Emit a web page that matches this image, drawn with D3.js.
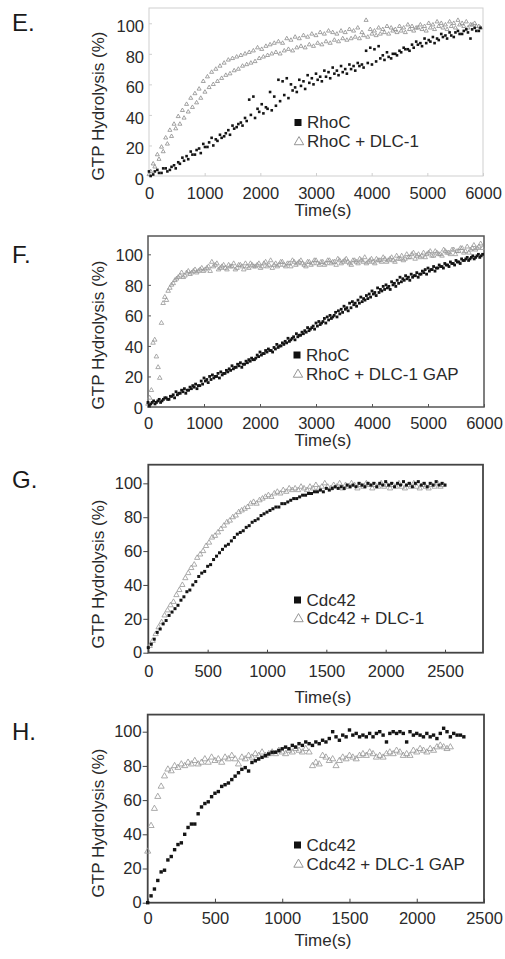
<!DOCTYPE html>
<html>
<head>
<meta charset="utf-8">
<script src="https://cdn.jsdelivr.net/npm/d3@7"></script>
<style>
  body { margin: 0; background: #fff; }
  svg text { font-family: "Liberation Sans", Arial, sans-serif; }
</style>
</head>
<body>
<svg id="fig" width="505" height="959"></svg>
<script>
// ---- data (GTP hydrolysis %) ----
const yTicks = [0, 20, 40, 60, 80, 100]
const xTicksLong = [0, 1000, 2000, 3000, 4000, 5000, 6000]
const xTicksShort = [0, 500, 1000, 1500, 2000, 2500]

// panel E, sampling every 75 s, two runs each
const eRhoC_A = [3,1,4,2,5,4,7,9,12,13,16,14,18,21,19,25,24,27,26,30,33,32,35,38,50,52,44,47,45,55,
  52,63,62,64,60,58,63,62,66,64,67,65,69,68,71,69,72,70,73,72,74,73,82,84,83,85,79,81,77,80,
  82,84,83,86,88,87,90,89,91,90,93,92,94,91,95,93,96,90,97,95]
const eRhoC_B = [0,3,2,5,3,6,5,8,10,11,14,17,15,19,22,20,23,25,28,27,31,34,33,36,40,38,42,41,44,43,
  46,49,53,51,56,55,59,57,61,60,63,62,65,64,67,66,68,67,70,69,72,71,74,73,75,77,76,78,80,79,
  81,83,82,84,86,85,87,88,87,89,91,90,92,94,93,95,94,96,95,97]
const eDLC_A = [1,8,14,19,25,30,34,39,43,47,51,54,57,62,65,68,70,72,74,76,77,78,79,80,81,82,84,83,85,86,
  87,88,87,90,89,91,90,92,91,93,92,94,93,95,94,93,95,94,96,95,97,94,102,96,95,97,96,98,97,96,
  98,97,99,98,97,99,98,100,99,101,100,99,101,100,102,100,101,99,100,98]
const eDLC_B = [3,6,11,16,21,26,31,34,38,42,45,48,51,55,58,60,62,64,66,67,69,70,72,73,74,75,77,78,79,80,
  81,80,82,83,82,84,85,84,86,85,87,86,88,87,89,88,90,89,90,91,90,92,91,93,92,93,94,93,95,94,
  95,94,96,95,97,96,95,97,96,98,97,96,98,97,99,98,97,99,98,97]

// panel F, RhoC every 50 s (two runs), DLC-1 GAP every 60 s (two runs)
const fRhoC_A = [3,2,4,3,5,4,6,5,7,8, 10,9,11,12,11,13,14,15,14,17, 19,18,20,21,20,22,23,22,24,25,
  27,26,28,29,28,30,31,32,31,34, 36,35,37,38,37,39,41,40,42,43, 45,44,46,48,47,49,50,52,51,53,
  55,56,55,58,59,60,59,62,63,64, 66,65,68,69,68,70,72,71,73,74, 76,75,78,77,79,80,79,82,81,83,
  85,84,86,85,87,86,88,87,89,90, 91,90,92,91,93,92,94,93,95,94, 96,95,97,96,98,97,99,98,100,99]
const fRhoC_B = [1,3,2,4,3,5,6,5,7,6, 8,9,10,9,11,12,13,12,14,15, 17,16,18,19,20,19,21,22,23,24,
  25,26,27,26,28,29,30,31,32,33, 34,35,36,37,36,38,39,40,41,42, 43,45,44,46,47,48,49,50,52,51,
  53,54,56,55,57,58,60,59,61,62, 64,63,65,67,66,68,69,70,71,72, 74,73,75,76,77,78,77,80,79,81,
  82,83,84,83,85,86,85,87,88,87, 89,90,89,91,92,91,93,92,94,93, 95,94,96,97,96,98,97,99,98,100]
const fGap_A = [2,11,44,26,55,72,76,80,83,85, 88,86,89,88,90,89,91,90,92,95, 93,90,92,91,93,92,90,93,92,94,
  91,93,92,94,92,95,93,91,94,93, 95,92,94,96,93,95,94,92,95,94, 96,93,95,94,96,95,93,96,95,97,
  94,96,95,97,95,94,96,95,97,96, 98,95,97,96,99,97,96,100,98,101, 99,98,101,100,102,99,101,100,103,101,
  100,103,102,104,101,105,103,106,104,107]
const fGap_B = [6,42,33,19,68,70,78,81,84,86, 85,88,87,89,88,90,89,91,89,92, 94,91,93,90,92,94,91,93,90,92,
  94,92,93,91,94,92,96,93,92,95, 93,94,92,95,94,96,93,95,93,96, 94,95,93,96,94,95,97,94,96,95,
  93,96,94,96,98,95,97,94,96,95, 97,96,98,95,97,99,97,98,100,97, 100,99,98,101,99,102,100,99,102,101,
  103,100,102,104,102,101,104,103,105,104]

// panel G, every 25 s
const gCdc42 = [3,5,8,12,14,17,19,22,24,26, 28,31,33,36,37,40,42,45,47,48, 51,52,55,57,59,61,63,64,66,68,
  70,71,72,74,75,77,78,79,81,82, 83,84,85,86,86,88,88,89,90,91, 91,92,93,93,94,94,95,95,96,95,
  97,96,97,98,97,98,97,99,98,99, 98,100,99,98,100,99,100,98,100,99, 101,99,100,98,100,99,101,99,100,98,
  100,101,99,100,98,100,99,101,99,100,99]
const gDLC = [4,7,11,15,18,22,25,28,30,34, 37,40,44,47,50,52,56,58,60,63, 65,68,69,71,73,75,77,78,80,81,
  83,84,85,86,88,89,88,90,91,92, 93,92,94,95,94,96,95,97,96,97, 96,98,97,96,98,97,99,97,98,100,
  98,97,99,98,100,97,99,98,100,99, 97,99,98,100,99,97,99,98,100,98, 99,97,99,98,100,98,97,99,98,100,
  98,97,99,98,97,99,98,100,98,99]

// panel H, every 25 s
const hCdc42 = [0,4,8,13,18,19,25,27,31,34, 35,40,44,46,46,52,56,58,59,62, 64,65,68,69,70,72,74,76,78,79,
  77,82,83,84,85,86,87,88,88,89, 90,91,90,92,91,93,92,94,93,92, 94,93,95,94,96,100,97,95,98,97,
  101,98,99,97,98,97,99,97,99,100, 98,94,99,100,99,100,99,94,100,98, 99,98,97,99,97,98,96,99,102,100,
  97,99,98,98,97]
const hGap = [30,45,55,62,68,74,78,77,80,79, 81,80,82,81,83,81,82,84,82,85, 83,84,82,85,84,86,84,81,85,84,
  86,85,87,86,88,86,87,88,87,89, 88,87,89,88,90,89,88,90,88,80, 82,81,86,85,83,84,80,83,85,84,
  86,85,84,86,87,86,88,87,85,86, 85,87,88,87,89,88,86,87,86,89, 88,90,89,88,90,89,91,92,91,90,91]

const legendE = ['RhoC', 'RhoC + DLC-1']
const legendF = ['RhoC', 'RhoC + DLC-1 GAP']
const legendG = ['Cdc42', 'Cdc42 + DLC-1']
const legendH = ['Cdc42', 'Cdc42 + DLC-1 GAP']

// turn a list of readings into [time, value] pairs
const toPoints = (values, start, step) => values.map((v, i) => [start + i * step, v])

const panels = [
  { letter: 'E.', letterY: 23, left: 149, right: 483, top: 8, bottom: 176, xMax: 6000, yMax: 110,
    xTicks: xTicksLong, frame: '#cfcfcf', frameW: 1, yTick: -3, xTick: -3, yLabDy: 3, xLabPad: 11,
    titleY: 210, yTitleY: 106, legend: legendE, legX: 298, legY: [122.5, 141.5], triSize: 7, sqSize: 2.6,
    greyStroke: '#8c8c8c',
    black: [toPoints(eRhoC_A, 0, 75), toPoints(eRhoC_B, 30, 75)],
    grey: [toPoints(eDLC_A, 0, 75), toPoints(eDLC_B, 30, 75)] },
  { letter: 'F.', letterY: 255, left: 148, right: 484, top: 236, bottom: 407, xMax: 6000, yMax: 112,
    xTicks: xTicksLong, frame: '#555', frameW: 1.5, yTick: -3, xTick: -3, yLabDy: 1, xLabPad: 10,
    titleY: 440, yTitleY: 335, legend: legendF, legX: 297, legY: [355, 374], triSize: 9, sqSize: 2.8,
    greyStroke: '#959595',
    black: [toPoints(fRhoC_A, 0, 50), toPoints(fRhoC_B, 25, 50)],
    grey: [toPoints(fGap_A, 0, 60), toPoints(fGap_B, 30, 60)] },
  { letter: 'G.', letterY: 480, left: 148.3, right: 483, top: 464.7, bottom: 652.7, xMax: 2820, yMax: 111,
    xTicks: xTicksShort, frame: '#444', frameW: 1.8, yTick: 5, xTick: -3, yLabDy: 0, xLabPad: 13,
    titleY: 697, yTitleY: 574, legend: legendG, legX: 297.5, legY: [600, 618.5], triSize: 12, sqSize: 3,
    greyStroke: '#959595',
    black: [toPoints(gCdc42, 0, 25)],
    grey: [toPoints(gDLC, 12, 25)] },
  { letter: 'H.', letterY: 732, left: 147.7, right: 484, top: 714.6, bottom: 902.7, xMax: 2500, yMax: 110,
    xTicks: xTicksShort, frame: '#444', frameW: 1.8, yTick: 5, xTick: -4, yLabDy: 0, xLabPad: 10,
    titleY: 940, yTitleY: 823, legend: legendH, legX: 297.5, legY: [845, 864], triSize: 16, sqSize: 3.4,
    greyStroke: '#959595',
    black: [toPoints(hCdc42, 0, 25)],
    grey: [toPoints(hGap, 0, 25)] }
]

const svg = d3.select('#fig')

const drawPanel = (p) => {
  const x = d3.scaleLinear().domain([0, p.xMax]).range([p.left, p.right])
  const y = d3.scaleLinear().domain([0, p.yMax]).range([p.bottom, p.top])
  const g = svg.append('g')

  // frame
  g.append('rect')
    .attr('x', p.left).attr('y', p.top)
    .attr('width', p.right - p.left).attr('height', p.bottom - p.top)
    .attr('fill', 'none').attr('stroke', p.frame).attr('stroke-width', p.frameW)

  // y axis
  const ya = g.append('g')
    .attr('transform', `translate(${p.left},0)`)
    .call(d3.axisLeft(y).tickValues(yTicks).tickFormat(d3.format('d'))
      .tickSizeInner(p.yTick).tickSizeOuter(0).tickPadding(p.yTick > 0 ? 1 : 5))
  ya.select('.domain').remove()
  ya.selectAll('line').attr('stroke', p.frame)
  ya.selectAll('text')
    .attr('font-size', 16.5).attr('fill', '#2a2a2a')
    .attr('transform', `translate(0,${p.yLabDy})`)

  // x axis
  const xa = g.append('g')
    .attr('transform', `translate(0,${p.bottom})`)
    .call(d3.axisBottom(x).tickValues(p.xTicks).tickFormat(d3.format('d'))
      .tickSizeInner(p.xTick).tickSizeOuter(0).tickPadding(p.xLabPad))
  xa.select('.domain').remove()
  xa.selectAll('line').attr('stroke', p.frame)
  xa.selectAll('text').attr('font-size', 16.5).attr('fill', '#2a2a2a')

  // grey triangles (with DLC-1)
  const tri = d3.symbol(d3.symbolTriangle, p.triSize)
  p.grey.forEach(run => {
    g.append('g').selectAll('path')
      .data(run)
      .join('path')
        .attr('d', tri)
        .attr('transform', d => `translate(${x(d[0])},${y(d[1])})`)
        .attr('fill', 'none')
        .attr('stroke', p.greyStroke)
        .attr('stroke-width', 0.8)
  })

  // black squares (GTPase alone)
  p.black.forEach(run => {
    g.append('g').selectAll('rect')
      .data(run)
      .join('rect')
        .attr('x', d => x(d[0]) - p.sqSize / 2)
        .attr('y', d => y(d[1]) - p.sqSize / 2)
        .attr('width', p.sqSize).attr('height', p.sqSize)
        .attr('fill', '#151515')
  })

  // legend
  g.append('rect')
    .attr('x', p.legX - 3.5).attr('y', p.legY[0] - 3.5)
    .attr('width', 7).attr('height', 7).attr('fill', '#111')
  g.append('path')
    .attr('d', d3.symbol(d3.symbolTriangle, 38)())
    .attr('transform', `translate(${p.legX + 1},${p.legY[1] + 0.5})`)
    .attr('fill', 'none').attr('stroke', '#8a8a8a').attr('stroke-width', 0.9)
  p.legend.forEach((label, i) => {
    g.append('text')
      .attr('x', p.legX + 9).attr('y', p.legY[i])
      .attr('dy', '0.35em')
      .attr('font-size', 17).attr('fill', '#2a2a2a')
      .text(label)
  })

  // axis titles
  g.append('text')
    .attr('x', 323).attr('y', p.titleY).attr('dy', '0.35em')
    .attr('text-anchor', 'middle').attr('font-size', 17).attr('fill', '#2a2a2a')
    .text('Time(s)')
  g.append('text')
    .attr('transform', `translate(98,${p.yTitleY}) rotate(-90)`)
    .attr('dy', '0.35em')
    .attr('text-anchor', 'middle').attr('font-size', 17).attr('fill', '#2a2a2a')
    .text('GTP Hydrolysis (%)')

  // panel letter
  g.append('text')
    .attr('x', 12).attr('y', p.letterY).attr('dy', '0.35em')
    .attr('font-size', 24).attr('fill', '#1a1a1a')
    .text(p.letter)
}

panels.forEach(drawPanel)
</script>
</body>
</html>
